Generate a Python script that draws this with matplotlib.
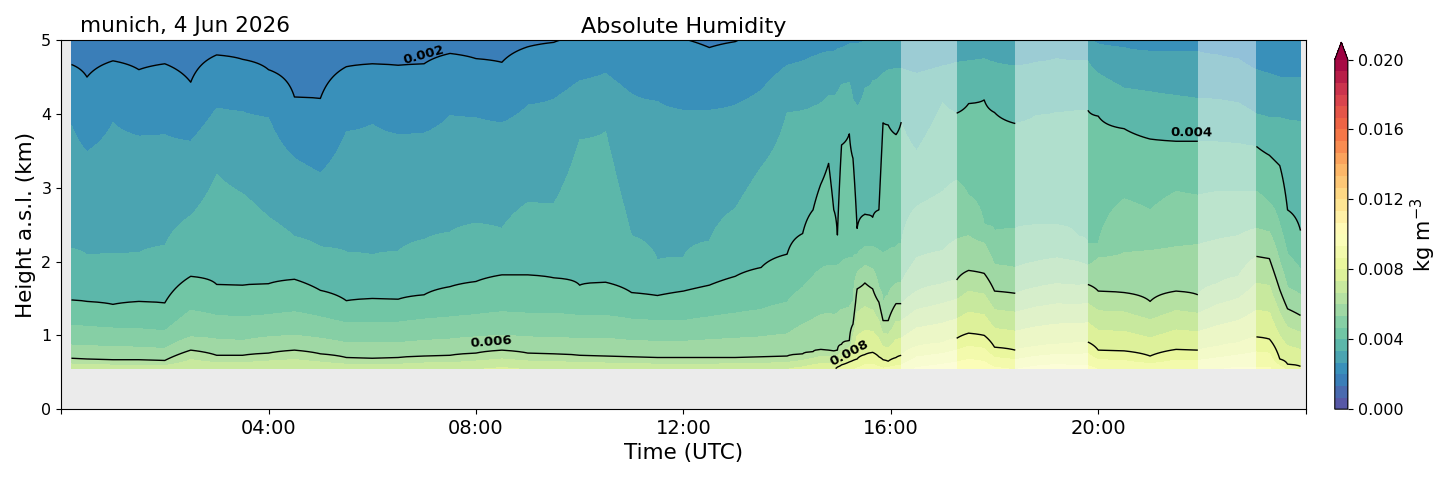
import numpy as np
import matplotlib
matplotlib.use("Agg")
import matplotlib.pyplot as plt

# time of each profile (hours UTC)
times = [0.2, 0.5, 1.0, 1.5, 2.0, 2.5, 3.0, 3.5, 4.0, 4.5,
         5.0, 5.5, 6.0, 6.5, 7.0, 7.5, 8.0, 8.5, 9.0, 9.5,
         10.0, 10.5, 11.0, 11.5, 12.0, 12.5, 13.0, 13.5, 14.0, 14.3,
         14.5, 14.65, 14.8, 14.9, 14.97, 15.05, 15.2, 15.27, 15.35, 15.5,
         15.65, 15.77, 15.85, 15.95, 16.1, 16.2, 16.5, 17.0, 17.27, 17.5,
         17.8, 18.0, 18.4, 18.8, 19.2, 19.6, 19.8, 20.0, 20.5, 21.0,
         21.5, 21.92, 22.3, 22.7, 23.05, 23.3, 23.5, 23.65, 23.9]

# height (km) of each humidity level at those times
h_0020 = [4.67, 4.50, 4.72, 4.60, 4.68, 4.43, 4.80, 4.74, 4.60, 4.23,
          4.21, 4.64, 4.68, 4.66, 4.68, 4.82, 4.75, 4.70, 4.91, 4.97,
          5.05, 5.10, 5.08, 5.03, 5.02, 4.90, 4.98, 5.10, 5.20, 5.25,
          5.30, 5.30, 5.30, 5.30, 5.30, 5.30, 5.30, 5.30, 5.30, 5.30,
          5.30, 5.30, 5.30, 5.30, 5.30, 5.30, 5.30, 5.30, 5.30, 5.30,
          5.30, 5.30, 5.30, 5.30, 5.30, 5.30, 5.30, 5.20, 5.15, 5.10,
          5.10, 5.10, 5.10, 5.10, 5.05, 5.00, 5.00, 5.05, 5.10]
h_0027 = [3.85, 3.49, 3.88, 3.70, 3.72, 3.63, 4.08, 4.03, 3.95, 3.40,
          3.20, 3.76, 3.86, 3.72, 3.74, 3.98, 3.95, 3.88, 4.12, 4.20,
          4.45, 4.55, 4.27, 4.17, 4.05, 4.05, 4.12, 4.32, 4.66, 4.72,
          4.78, 4.82, 4.85, 4.85, 4.88, 4.90, 4.95, 4.95, 4.95, 5.00,
          5.00, 5.00, 5.00, 5.00, 5.05, 5.05, 5.05, 5.10, 5.10, 5.10,
          5.10, 5.10, 5.05, 5.10, 5.10, 5.05, 5.05, 4.95, 4.90, 4.85,
          4.85, 4.85, 4.80, 4.75, 4.60, 4.55, 4.50, 4.50, 4.50]
h_0033 = [2.18, 2.09, 2.11, 2.12, 2.22, 2.62, 3.18, 2.92, 2.60, 2.34,
          2.20, 2.13, 2.09, 2.14, 2.30, 2.40, 2.52, 2.45, 2.80, 2.78,
          3.65, 3.76, 2.35, 2.02, 2.06, 2.28, 2.72, 3.28, 4.02, 4.05,
          4.10, 4.15, 4.25, 4.25, 4.30, 4.40, 4.43, 4.20, 4.10, 4.35,
          4.45, 4.50, 4.55, 4.60, 4.62, 4.62, 4.55, 4.65, 4.70, 4.72,
          4.75, 4.70, 4.65, 4.70, 4.75, 4.72, 4.72, 4.55, 4.35, 4.30,
          4.25, 4.21, 4.20, 4.15, 4.00, 3.95, 3.95, 3.92, 3.90]
h_0040 = [1.48, 1.46, 1.42, 1.46, 1.44, 1.80, 1.69, 1.68, 1.70, 1.76,
          1.61, 1.47, 1.50, 1.49, 1.55, 1.66, 1.73, 1.82, 1.82, 1.78,
          1.68, 1.72, 1.58, 1.54, 1.60, 1.68, 1.80, 1.92, 2.10, 2.38,
          2.70, 3.05, 3.33, 2.70, 2.36, 3.58, 3.73, 3.40, 2.45, 2.64,
          2.60, 2.70, 3.88, 3.85, 3.72, 3.89, 3.50, 4.15, 4.01, 4.14,
          4.19, 4.02, 3.87, 3.98, 4.02, 4.05, 4.05, 3.97, 3.80, 3.66,
          3.63, 3.63, 3.62, 3.60, 3.56, 3.44, 3.30, 2.70, 2.42]
h_0047 = [1.14, 1.12, 1.10, 1.09, 1.06, 1.34, 1.27, 1.25, 1.28, 1.32,
          1.25, 1.17, 1.18, 1.18, 1.22, 1.25, 1.28, 1.32, 1.30, 1.30,
          1.27, 1.27, 1.22, 1.20, 1.20, 1.25, 1.30, 1.35, 1.45, 1.65,
          1.80, 1.90, 1.95, 1.95, 1.95, 2.00, 2.05, 2.05, 2.10, 2.20,
          2.20, 2.15, 2.10, 2.15, 2.20, 2.25, 2.75, 2.95, 3.10, 2.90,
          2.50, 2.42, 2.45, 2.50, 2.50, 2.35, 2.25, 2.25, 2.85, 2.70,
          2.95, 2.90, 2.95, 2.95, 2.95, 2.80, 2.50, 2.10, 1.90]
h_0053 = [0.87, 0.86, 0.85, 0.84, 0.82, 0.98, 0.95, 0.93, 0.98, 1.00,
          0.96, 0.90, 0.90, 0.90, 0.93, 0.95, 0.98, 1.00, 0.98, 0.97,
          0.96, 0.96, 0.93, 0.92, 0.92, 0.94, 0.96, 0.98, 1.02, 1.15,
          1.22, 1.28, 1.30, 1.28, 1.30, 1.35, 1.38, 1.45, 1.85, 1.95,
          1.90, 1.65, 1.45, 1.55, 1.70, 1.72, 2.05, 2.15, 2.30, 2.35,
          2.25, 1.96, 1.92, 2.00, 2.05, 2.00, 1.95, 2.05, 2.12, 2.15,
          2.20, 2.23, 2.30, 2.35, 2.45, 2.40, 2.00, 1.65, 1.55]
h_0060 = [0.69, 0.68, 0.67, 0.67, 0.66, 0.80, 0.73, 0.73, 0.76, 0.80,
          0.75, 0.70, 0.69, 0.70, 0.72, 0.73, 0.76, 0.80, 0.76, 0.75,
          0.73, 0.72, 0.71, 0.70, 0.70, 0.70, 0.70, 0.71, 0.72, 0.75,
          0.78, 0.81, 0.80, 0.79, 0.80, 0.88, 0.93, 1.15, 1.63, 1.71,
          1.63, 1.45, 1.20, 1.20, 1.43, 1.43, 1.60, 1.70, 1.75, 1.88,
          1.84, 1.60, 1.57, 1.65, 1.70, 1.68, 1.69, 1.60, 1.58, 1.46,
          1.60, 1.55, 1.70, 1.80, 2.07, 2.04, 1.62, 1.36, 1.27]
nan = np.nan
h_0080 = [nan] * 34 + [
          0.57, 0.60, 0.64, 0.66, 0.68, 0.74,
          0.77, 0.71, 0.67, 0.65, 0.70, 0.73, 0.85, 0.90, 0.96, 1.03,
          1.00, 0.84, 0.80, 0.85, 0.88, 0.90, 0.91, 0.80, 0.79, 0.72,
          0.81, 0.80, 0.85, 0.90, 0.98, 0.95, 0.68, 0.61, 0.58]
# absolute humidity at the lowest gate (kg m-3)
q_bottom = [0.0072, 0.0072, 0.0071, 0.0071, 0.0071, 0.0073, 0.0072, 0.0072, 0.0073, 0.0073,
            0.0072, 0.0071, 0.0071, 0.0071, 0.0072, 0.0072, 0.0073, 0.0074, 0.0073, 0.0073,
            0.0072, 0.0072, 0.0072, 0.0071, 0.0071, 0.0071, 0.0072, 0.0072, 0.0073, 0.0075,
            0.0077, 0.0078, 0.0079, 0.0079, 0.0081, 0.0083, 0.0085, 0.0086, 0.0087, 0.0089,
            0.0089, 0.0088, 0.0087, 0.0088, 0.0089, 0.0089, 0.0094, 0.0096, 0.0097, 0.0098,
            0.0097, 0.0094, 0.0093, 0.0095, 0.0096, 0.0095, 0.0095, 0.0093, 0.0092, 0.0091,
            0.0092, 0.0092, 0.0093, 0.0094, 0.0094, 0.0094, 0.0089, 0.0085, 0.0083]

z_bottom = 0.55
level_values = [0.002, 0.02 / 30 * 4, 0.02 / 30 * 5, 0.004, 0.02 / 30 * 7, 0.02 / 30 * 8, 0.006, 0.008]

# periods flagged in the retrieval
mask_start = [16.2, 18.4, 21.92]
mask_end = [17.27, 19.8, 23.05]

times = np.array(times)
heights = np.array([h_0020, h_0027, h_0033, h_0040, h_0047, h_0053, h_0060, h_0080])
z = np.linspace(z_bottom, 5.0, 446)

field = np.zeros((len(z), len(times)))
for i in range(len(times)):
    zs = [z_bottom]
    vs = [q_bottom[i]]
    for k in range(len(level_values)):
        if not np.isnan(heights[k, i]):
            zs.append(heights[k, i])
            vs.append(level_values[k])
    zs.append(6.0)
    vs.append(0.0014)
    order = np.argsort(zs)
    field[:, i] = np.interp(z, np.array(zs)[order], np.array(vs)[order])

masked = field.copy()
for s, e in zip(mask_start, mask_end):
    masked[:, (times > s) & (times < e)] = np.nan
masked = np.ma.masked_invalid(masked)

fig = plt.figure(figsize=(14.54, 4.78), dpi=100)
ax = fig.add_axes([0.042, 0.144, 0.856, 0.772])
cax = fig.add_axes([0.918, 0.144, 0.009, 0.768])
ax.set_facecolor('#ebebeb')

levels = np.linspace(0, 0.02, 31)
cf = ax.contourf(times, z, field, levels=levels, cmap='Spectral_r', extend='max')

for s, e in zip(mask_start, mask_end):
    ax.fill_between([s, e], z_bottom, 5.0, color='white', alpha=0.45, lw=0)

cs = ax.contour(times, z, masked, levels=[0.002, 0.004, 0.006, 0.008],
                colors='black', linewidths=1.0)
labels = ax.clabel(cs, fmt='%.3f', fontsize=9.5, inline=False,
                   manual=[(7.0, 4.68), (8.3, 0.78), (15.2, 0.64), (21.8, 3.63)])
for t in labels:
    t.set_fontweight('bold')
    x, y = t.get_position()
    t.set_position((x, y + 0.12))

ax.set_xlim(0, 24)
ax.set_ylim(0, 5)
ax.set_xticks([0, 4, 8, 12, 16, 20, 24])
ax.set_xticklabels(['', '04:00', '08:00', '12:00', '16:00', '20:00', ''], fontsize=14)
ax.set_yticks([0, 1, 2, 3, 4, 5])
ax.tick_params(axis='y', labelsize=11.5)
ax.set_xlabel('Time (UTC)', fontsize=15.5)
ax.set_ylabel('Height a.s.l. (km)', fontsize=15.5)
ax.set_title('Absolute Humidity', fontsize=16, pad=5)
ax.text(0.015, 1.012, 'munich, 4 Jun 2026', transform=ax.transAxes,
        fontsize=15.5, va='bottom', ha='left')

cb = fig.colorbar(cf, cax=cax, ticks=[0, 0.004, 0.008, 0.012, 0.016, 0.02])
cb.ax.set_yticklabels(['0.000', '0.004', '0.008', '0.012', '0.016', '0.020'])
cb.ax.tick_params(labelsize=11.5)
cb.set_label('kg m$^{-3}$', fontsize=15)

fig.savefig('out.png', dpi=100)
